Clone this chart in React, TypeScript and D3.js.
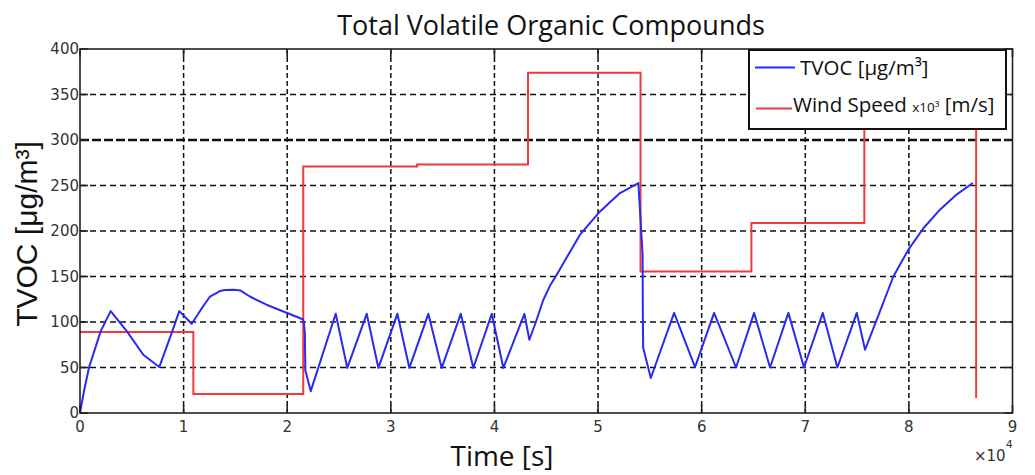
import React from "react";
import * as d3 from "d3";

const W = 1035;
const H = 475;
const PLOT = { left: 80, right: 1012.5, top: 49, bottom: 413 };

// TVOC concentration [µg/m³] against time [s]
const tvocTime = [
  0, 400, 870, 2000, 2960, 4510, 6110, 7650, 8850, 9580, 10780, 11870, 12550, 13500,
  14000, 14800, 15500, 16400, 18000, 21500, 21600, 21700, 21750, 22270,
  24680, 25800, 27670, 28800, 30630, 31790, 33620, 34910, 36750, 37960, 39740, 40860,
  42890, 43370, 44000, 44720, 45370, 46010, 48260, 50190, 52120, 53890,
  54300, 54320, 54350, 55090,
  57340, 59360, 61200, 63320, 65060, 66600, 68370, 69880, 71690, 73100, 74970, 75770,
  76900, 78500, 79950, 81400, 83000, 84600, 86170,
];
const tvocValue = [
  0, 25, 50, 90, 112, 90, 64, 50.5, 88, 112, 98, 117, 128, 134,
  135.2, 135.5, 134.5, 128, 119, 103, 100, 88, 47, 24,
  109, 49.5, 109, 49.5, 109, 49.5, 109, 49.5, 109, 49.5, 109, 49.5,
  109, 80.5, 100, 124.5, 140, 152, 196, 221.5, 241.7, 252.7,
  174, 112, 72, 38.5,
  110, 50.5, 110, 50, 110, 50, 110, 50, 110, 50, 110, 69.5,
  102.5, 150, 179.5, 203, 223.4, 240, 252.7,
];

// Wind speed (×10³) [m/s], held constant between changes
const windTime = [0, 10940, 21550, 32530, 43240, 54100, 64800, 75700, 86490];
const windValue = [89, 21, 271, 273, 374, 155.6, 208.8, 340, 16.5];

const xTicks = [0, 1, 2, 3, 4, 5, 6, 7, 8, 9];
const yTicks = [0, 50, 100, 150, 200, 250, 300, 350, 400];

const x = d3.scaleLinear().domain([0, 90000]).range([PLOT.left, PLOT.right]);
const y = d3.scaleLinear().domain([0, 400]).range([PLOT.bottom, PLOT.top]);

const tvocPath =
  d3
    .line<number>()
    .x((_, i) => x(tvocTime[i]))
    .y((d) => y(d))(tvocValue) || "";

const windPath =
  d3
    .line<number>()
    .x((_, i) => x(windTime[i]))
    .y((d) => y(d))
    .curve(d3.curveStepAfter)(windValue) || "";

const uiFont = "'Open Sans', 'Noto Sans', sans-serif";
const tickFont = "'DejaVu Sans', sans-serif";

export default function App() {
  const tickLen = 8;
  return (
    <div style={{ position: "absolute", left: 0, top: 0 }}>
      <svg width={W} height={H} style={{ display: "block", background: "#fff" }}>
        <defs>
          <clipPath id="plot-clip">
            <rect
              x={PLOT.left}
              y={PLOT.top}
              width={PLOT.right - PLOT.left}
              height={PLOT.bottom - PLOT.top}
            />
          </clipPath>
        </defs>

        <text
          x={551}
          y={35}
          textAnchor="middle"
          fontFamily={uiFont}
          fontSize={27}
          fill="#111"
        >
          Total Volatile Organic Compounds
        </text>

        {/* grid */}
        <g>
          {yTicks
            .filter((t) => t > 0 && t < 400)
            .map((t) => (
              <line
                key={"gy" + t}
                x1={PLOT.left}
                x2={PLOT.right}
                y1={y(t)}
                y2={y(t)}
                stroke="#111"
                strokeWidth={t === 300 ? 2.6 : 1.5}
                strokeDasharray={t === 300 ? "9,3" : "6,4"}
              />
            ))}
          {xTicks
            .filter((t) => t > 0 && t < 9)
            .map((t) => (
              <line
                key={"gx" + t}
                x1={x(t * 1e4)}
                x2={x(t * 1e4)}
                y1={PLOT.top}
                y2={PLOT.bottom}
                stroke="#111"
                strokeWidth={1.5}
                strokeDasharray="5,3"
              />
            ))}
        </g>

        {/* data */}
        <g clipPath="url(#plot-clip)">
          <path d={windPath} fill="none" stroke="#f03a3a" strokeWidth={2} />
          <path
            d={tvocPath}
            fill="none"
            stroke="#2a2af0"
            strokeWidth={2}
            strokeLinejoin="round"
          />
        </g>

        {/* axes frame and ticks */}
        <rect
          x={PLOT.left}
          y={PLOT.top}
          width={PLOT.right - PLOT.left}
          height={PLOT.bottom - PLOT.top}
          fill="none"
          stroke="#222"
          strokeWidth={1.6}
        />
        {xTicks.map((t) => (
          <g key={"tx" + t}>
            <line
              x1={x(t * 1e4)}
              x2={x(t * 1e4)}
              y1={PLOT.bottom}
              y2={PLOT.bottom - tickLen}
              stroke="#222"
              strokeWidth={1.6}
            />
            <line
              x1={x(t * 1e4)}
              x2={x(t * 1e4)}
              y1={PLOT.top}
              y2={PLOT.top + tickLen}
              stroke="#222"
              strokeWidth={1.6}
            />
            <text
              x={x(t * 1e4)}
              y={432}
              textAnchor="middle"
              fontFamily={tickFont}
              fontSize={15}
              fill="#333"
            >
              {t}
            </text>
          </g>
        ))}
        {yTicks.map((t) => (
          <g key={"ty" + t}>
            <line
              x1={PLOT.left}
              x2={PLOT.left + tickLen}
              y1={y(t)}
              y2={y(t)}
              stroke="#222"
              strokeWidth={1.6}
            />
            <line
              x1={PLOT.right}
              x2={PLOT.right - tickLen}
              y1={y(t)}
              y2={y(t)}
              stroke="#222"
              strokeWidth={1.6}
            />
            <text
              x={79}
              y={y(t)}
              dy="0.36em"
              textAnchor="end"
              fontFamily={tickFont}
              fontSize={15}
              fill="#333"
            >
              {t}
            </text>
          </g>
        ))}

        {/* exponent of the time axis */}
        <text x={974} y={461} fontFamily={tickFont} fontSize={15} fill="#333">
          ×10
          <tspan dy={-13} fontSize={11}>
            4
          </tspan>
        </text>

        {/* axis titles */}
        <text
          x={502}
          y={466}
          textAnchor="middle"
          fontFamily={uiFont}
          fontSize={28}
          fill="#111"
        >
          Time [s]
        </text>
        <text
          transform="translate(37,234) rotate(-90)"
          textAnchor="middle"
          fontFamily="'Liberation Sans', Arial, sans-serif"
          fontSize={30}
          fill="#111"
        >
          TVOC [μg/m³]
        </text>

        {/* legend */}
        <g>
          <rect x={749} y={50} width={257} height={79} fill="#fff" stroke="#111" strokeWidth={2} />
          <line x1={755} x2={795} y1={67.5} y2={67.5} stroke="#2a2af0" strokeWidth={2} />
          <text x={800} y={75} fontFamily={uiFont} fontSize={20.5} fill="#111">
            TVOC [μg/m³]
          </text>
          <line x1={756} x2={792} y1={108.5} y2={108.5} stroke="#f03a3a" strokeWidth={2} />
          <text x={793} y={112} fontFamily={uiFont} fontSize={20.5} fill="#111">
            Wind Speed <tspan fontSize={13.5}>x10³</tspan> [m/s]
          </text>
        </g>
      </svg>
    </div>
  );
}
